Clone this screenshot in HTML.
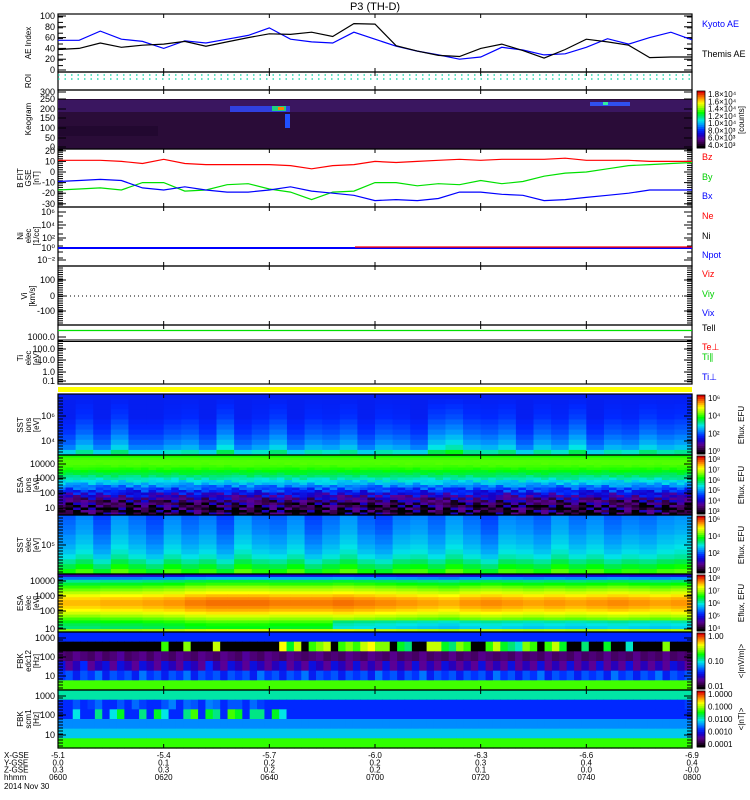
<!DOCTYPE html>
<html><head><meta charset="utf-8">
<style>
body{margin:0;background:#fff;}
svg{display:block;font-family:"Liberation Sans",sans-serif;}
</style></head>
<body>
<svg id="chart" width="750" height="800" viewBox="0 0 750 800">
<text x="375" y="10" font-size="11" text-anchor="middle">P3 (TH-D)</text>
<g id="marks"></g>
</svg>
<script>
// ---- data ----
const timeMin = [0,4,8,12,16,20,24,28,32,36,40,44,48,52,56,60,64,68,72,76,80,84,88,92,96,100,104,108,112,116,120];
const kyotoAE = [55,55,72,57,53,40,54,50,57,64,78,57,52,50,70,57,44,35,28,20,24,42,37,28,30,42,58,48,60,70,56];
const themisAE = [38,40,50,42,46,48,53,44,52,60,67,66,70,62,86,85,45,35,27,25,40,48,36,22,38,57,52,46,23,24,24];
const bx = [-9,-8,-7,-8,-15,-17,-14,-17,-19,-19,-17,-14,-18,-20,-22,-27,-26,-27,-25,-19,-19,-21,-22,-27,-26,-24,-22,-20,-17,-17,-17];
const by = [-17,-16,-15,-17,-10,-10,-18,-17,-12,-11,-16,-19,-26,-19,-18,-10,-10,-13,-11,-12,-8,-11,-9,-4,-1,0,3,6,7,8,9];
const bz = [11,11,11,10,8,12,8,7,7,7,7,6,3,6,7,10,9,10,11,12,11,12,12,12,13,11,11,11,10,10,10];
const xTickLabels = ['0600','0620','0640','0700','0720','0740','0800'];
const xGse = ['-5.1','-5.4','-5.7','-6.0','-6.3','-6.6','-6.9'];
const yGse = ['0.0','0.1','0.2','0.2','0.3','0.4','0.4'];
const zGse = ['0.3','0.3','0.2','0.2','0.1','0.0','-0.0'];
// spectrogram band profiles (top->bottom) and column modulations
const sst1Bands = [0.28,0.28,0.28,0.28,0.28,0.29,0.3,0.31,0.33,0.35,0.38,0.46];
const sst1Cols = [0,0.04,0,0.05,0,0,0.02,0.03,0,0.06,0,0.02,0.05,0,0.03,0.02,0.04,0,0.03,0.02,0,0.06,0.08,0.04,0.03,0.05,0,0.04,0.02,0.06,0,0.03,0.02,0.05,0.03,0.04];
const esaiBands = [0.63,0.66,0.67,0.67,0.66,0.64,0.61,0.58,0.55,0.51,0.47,0.43,0.38,0.33,0.29,0.24,0.2,0.16,0.13,0.1,0.08,0.06,0.05,0.04];
const esaiCols = "3142031524130425314205132403152413250314253142031524130425314205132403152413250314";
const sst2Bands = [0.32,0.33,0.34,0.35,0.37,0.38,0.4,0.42,0.45,0.5,0.55,0.6];
const sst2Cols = [0.02,0.05,0,0.06,0.03,0,0.05,0.02,0.04,0,0.06,0.03,0.02,0.05,0,0.03,0.06,0.02,0,0.04,0.05,0.02,0.06,0.03,0,0.05,0.04,0.02,0.06,0.03,0.05,0.02,0.04,0.03,0.05,0.06];
const esaeBands = [0.22,0.4,0.56,0.62,0.68,0.72,0.77,0.82,0.86,0.88,0.88,0.86,0.83,0.79,0.74,0.69,0.64,0.6,0.58,0.74];
const esaeCols = [-0.03,-0.03,-0.02,-0.02,-0.01,0,0.02,0.03,0.03,0.03,0.02,0.02,0.02,0.03,0.02,0.01,0,-0.01,-0.02,0,0.01,0,-0.01,0,-0.01,0,0.01,0,-0.01,0];
const fbk1Hi  = "00000000000000600700080000000095806780676897705400885476006854376068500400500300007000";
const fbk1Mid = "21321312412313213213213214213213212312132132131213121312132121312131213121312131213121";
const fbk1Low = "34243524342534243524342434253424352434243425342435243424342534243524342434253424352434";
const fbk2Mid = "00100201300203100240320430220310000000000000000000000000000000000000000000000000000000";
</script>
<script>
const svg = document.getElementById('chart');
const g = document.getElementById('marks');
const NS = 'http://www.w3.org/2000/svg';
const X0 = 58, X1 = 692;
const xScale = t => X0 + t / 120 * (X1 - X0);
function el(tag, attrs, parent) {
  const e = document.createElementNS(NS, tag);
  for (const k in attrs) e.setAttribute(k, attrs[k]);
  (parent || g).appendChild(e);
  return e;
}
function txt(x, y, s, attrs, parent) {
  const e = el('text', Object.assign({x: x, y: y, 'font-size': 9}, attrs || {}), parent);
  e.textContent = s;
  return e;
}
const stops = [[0,[0,0,0]],[0.08,[60,0,80]],[0.15,[90,0,150]],[0.22,[20,0,200]],[0.3,[0,40,255]],[0.4,[0,150,255]],[0.48,[0,230,230]],[0.56,[0,230,100]],[0.62,[0,255,0]],[0.72,[160,255,0]],[0.8,[255,255,0]],[0.88,[255,150,0]],[1,[220,0,0]]];
function cmap(v) {
  if (!isFinite(v)) v = 0.3;
  v = Math.max(0, Math.min(1, v));
  for (let i = 1; i < stops.length; i++) {
    if (v <= stops[i][0]) {
      const a = stops[i-1], b = stops[i], f = (v - a[0]) / (b[0] - a[0]);
      const c = a[1].map((q, j) => Math.round(q + (b[1][j] - q) * f));
      return 'rgb(' + c.join(',') + ')';
    }
  }
  return 'rgb(220,0,0)';
}
const digit = (s, i) => Number(s[((i % s.length) + s.length) % s.length]);
function spec(name, y0, y1, nRows, nCols, fn) {
  const grp = el('g', {});
  
  
  const rh = (y1 - y0) / nRows, cw = (X1 - X0) / nCols;
  for (let r = 0; r < nRows; r++) for (let c = 0; c < nCols; c++) {
    el('rect', {x: (X0 + c * cw).toFixed(2), y: (y0 + r * rh).toFixed(2), width: (cw + 0.6).toFixed(2), height: (rh + 0.6).toFixed(2), fill: cmap(fn(r, c, nRows, nCols))}, grp);
  }
  return grp;
}
function line(name, xs, ys, yScale, color) {
  const pts = xs.map((t, i) => xScale(t).toFixed(1) + ',' + yScale(ys[i]).toFixed(1)).join(' ');
  const p = el('polyline', {points: pts, fill: 'none', stroke: color, 'stroke-width': 1.2});
  
  
}
function panelFrame(name, y0, y1) {
  const r = el('rect', {x: X0, y: y0, width: X1 - X0, height: y1 - y0, fill: 'none', stroke: '#000', 'stroke-width': 1.2});
  
  
  for (let i = 0; i <= 6; i++) {
    const x = xScale(i * 20);
    el('line', {x1: x, x2: x, y1: y0, y2: y0 + 4, stroke: '#000'});
    el('line', {x1: x, x2: x, y1: y1, y2: y1 - 4, stroke: '#000'});
  }
}
function yTicks(labels, ys, minor) {
  labels.forEach((s, i) => {
    el('line', {x1: X0, x2: X0 + 8, y1: ys[i], y2: ys[i], stroke: '#000'});
    el('line', {x1: X1, x2: X1 - 8, y1: ys[i], y2: ys[i], stroke: '#000'});
    const t = txt(X0 - 3, ys[i] + 3, s, {'text-anchor': 'end', 'font-size': 9});
    
    
  });
  (minor || []).forEach(y => {
    el('line', {x1: X0, x2: X0 + 5, y1: y, y2: y, stroke: '#000'});
    el('line', {x1: X1, x2: X1 - 5, y1: y, y2: y, stroke: '#000'});
  });
}
function yTitle(lines, cy) {
  lines.forEach((s, i) => {
    const x = 31 + i * 8 - (lines.length - 1) * 4;
    const t = txt(x, cy, s, {'font-size': 8, 'text-anchor': 'middle', transform: 'rotate(-90 ' + x + ' ' + cy + ')'});
    
    
  });
}
function legend(s, y, color) {
  const t = txt(702, y, s, {fill: color, 'font-size': 9});
  
  
}
function colorbar(name, y0, y1, labels) {
  const grp = el('g', {});
  
  
  const n = 30, h = (y1 - y0) / n;
  for (let i = 0; i < n; i++) el('rect', {x: 697, y: y0 + i * h, width: 8, height: h + 0.5, fill: cmap(1 - i / (n - 1))}, grp);
  el('rect', {x: 697, y: y0, width: 8, height: y1 - y0, fill: 'none', stroke: '#000', 'stroke-width': 0.8}, grp);
  labels.forEach((s, i) => txt(708, y0 + 6 + i * (y1 - y0 - 6) / Math.max(1, labels.length - 1), s, {'font-size': 8}, grp));
}
const minorDense = (y0, y1, step) => { const a = []; for (let y = y0; y < y1; y += step) a.push(y); return a; };

// ---- AE panel ----
const aeY = v => 70 - v * 0.54;
panelFrame('ae-panel', 14, 72);
yTicks(['100','80','60','40','20','0'], [100,80,60,40,20,0].map(aeY), minorDense(17, 70, 5.4));
line('kyoto-ae-line', timeMin, kyotoAE, aeY, '#0000ff');
line('themis-ae-line', timeMin, themisAE, aeY, '#000');
yTitle(['AE Index'], 43);
legend('Kyoto AE', 27, '#0000ff');
legend('Themis AE', 57, '#000');

// ---- ROI ----
panelFrame('roi-panel', 72, 90);
el('line', {x1: X0, x2: X1, y1: 75, y2: 75, stroke: '#00d0a0', 'stroke-dasharray': '1.5 5', 'stroke-width': 1.3});
el('line', {x1: X0, x2: X1, y1: 79, y2: 79, stroke: '#00d0a0', 'stroke-dasharray': '1.5 5', 'stroke-width': 1.3});
yTitle(['ROI'], 81);

// ---- Keogram ----
panelFrame('keogram-panel', 90, 149);
const keo = el('g', {});


el('rect', {x: X0, y: 99, width: X1 - X0, height: 50, fill: '#2a0c38'}, keo);
el('rect', {x: X0, y: 100, width: X1 - X0, height: 12, fill: '#3a1660'}, keo);
el('rect', {x: X0, y: 126, width: 100, height: 10, fill: '#220830'}, keo);
el('rect', {x: 230, y: 106, width: 60, height: 6, fill: '#3040e0'}, keo);
el('rect', {x: 272, y: 106, width: 14, height: 5, fill: '#20d080'}, keo);
el('rect', {x: 278, y: 107, width: 6, height: 3, fill: '#ff8000'}, keo);
el('rect', {x: 285, y: 114, width: 5, height: 14, fill: '#2050ff'}, keo);
el('rect', {x: 590, y: 102, width: 40, height: 4, fill: '#3050f0'}, keo);
el('rect', {x: 603, y: 102, width: 5, height: 3, fill: '#30f0a0'}, keo);
yTicks(['300','250','200','150','100','50','0'], [92,99,109,118,128,138,147]);
yTitle(['Keogram'], 119);
colorbar('keogram-colorbar', 91, 148, ['1.8×10⁴','1.6×10⁴','1.4×10⁴','1.2×10⁴','1.0×10⁴','8.0×10³','6.0×10³','4.0×10³']);

// ---- B field ----
const bY = v => 172 - v * 1.06;
panelFrame('b-field-panel', 149, 207);
yTicks(['20','10','0','-10','-20','-30'], [20,10,0,-10,-20,-30].map(bY), minorDense(150, 206, 2.2));
line('bz-line', timeMin, bz, bY, '#ff0000');
line('by-line', timeMin, by, bY, '#00e000');
line('bx-line', timeMin, bx, bY, '#0000ff');
yTitle(['B FIT','GSE','[nT]'], 178);
legend('Bz', 160, '#ff0000');
legend('By', 180, '#00d000');
legend('Bx', 199, '#0000ff');

// ---- Ni ----
panelFrame('density-panel', 207, 266);
yTicks(['10⁶','10⁴','10²','10⁰','10⁻²'], [212,225,238,248,260], minorDense(216, 264, 6));
el('line', {x1: X0, x2: X1, y1: 248, y2: 248, stroke: '#0000ff', 'stroke-width': 2});
el('line', {x1: 355, x2: X1, y1: 247, y2: 247, stroke: '#ff0000', 'stroke-width': 1.2});
yTitle(['Ni','elec','[1/cc]'], 236);
legend('Ne', 219, '#ff0000');
legend('Ni', 239, '#000');
legend('Npot', 258, '#0000ff');

// ---- Vi ----
panelFrame('velocity-panel', 266, 325);
yTicks(['100','0','-100'], [280,296,311], minorDense(268, 324, 2.2));
el('line', {x1: X0, x2: X1, y1: 296, y2: 296, stroke: '#000', 'stroke-dasharray': '1 3'});
yTitle(['Vi','[km/s]'], 296);
legend('Viz', 277, '#ff0000');
legend('Viy', 297, '#00d000');
legend('Vix', 316, '#0000ff');

// ---- Ti ----
panelFrame('temperature-panel', 325, 384);
el('line', {x1: X0, x2: X1, y1: 340, y2: 340, stroke: '#000'});
yTicks(['1000.0','100.0','10.0','1.0','0.1'], [337,349,360,372,381], minorDense(341, 383, 2.4));
el('line', {x1: X0, x2: X1, y1: 330.5, y2: 330.5, stroke: '#00e000', 'stroke-width': 1.2});
el('line', {x1: X0, x2: X1, y1: 341.5, y2: 341.5, stroke: '#000', 'stroke-width': 1});
yTitle(['Ti','elec','[eV]'], 358);
legend('Tell', 331, '#000');
legend('Te⊥', 350, '#ff0000');
legend('Ti∥', 360, '#00d000');
legend('Ti⊥', 380, '#0000ff');

// ---- yellow bar ----
const yb = el('rect', {x: X0, y: 387, width: X1 - X0, height: 5, fill: '#ffff00'});



// ---- spectrograms ----
spec('sst-ion-spectrogram', 394, 455, sst1Bands.length, sst1Cols.length, (r, c, n) => sst1Bands[r] + sst1Cols[c] * (r / n) * 2);
spec('esa-ion-spectrogram', 455, 515, esaiBands.length, 84, (r, c, n) => esaiBands[r] + (digit(esaiCols, c * 3 + r * 7) - 2.5) * 0.025 * (r / n) * (r / n) * 3);
spec('sst-electron-spectrogram', 515, 574, sst2Bands.length, sst2Cols.length, (r, c) => sst2Bands[r] + sst2Cols[c] * 1.3);
spec('esa-electron-spectrogram', 574, 632, esaeBands.length, esaeCols.length, (r, c, n) => {
  let v = esaeBands[r] + esaeCols[c];
  if (r > n * 0.75 && r < n - 1 && c > 12) v -= 0.12;
  return v;
});
spec('fbk-edc12-spectrogram', 632, 690, 6, fbk1Hi.length, (r, c) => {
  if (r === 0) return 0.3;
  if (r === 1) { const d = digit(fbk1Hi, c); return d === 0 ? 0.0 : 0.35 + d * 0.05; }
  if (r === 2) return 0.08 + digit(fbk1Mid, c) * 0.02;
  if (r === 3) return 0.1 + digit(fbk1Mid, c + 5) * 0.05;
  if (r === 4) return 0.22 + digit(fbk1Low, c) * 0.03;
  return 0.66;
});
spec('fbk-scm-spectrogram', 690, 748, 6, fbk2Mid.length, (r, c) => {
  if (r === 0) return 0.52;
  if (r === 1) return 0.3 + digit(fbk2Mid, c + 3) * 0.02;
  if (r === 2) { const d = digit(fbk2Mid, c); return d === 0 ? 0.3 : 0.42 + d * 0.06; }
  if (r === 3) return 0.39;
  if (r === 4) return 0.45;
  return 0.65;
});
panelFrame('sst-ion-panel', 394, 455);
panelFrame('esa-ion-panel', 455, 515);
panelFrame('sst-electron-panel', 515, 574);
panelFrame('esa-electron-panel', 574, 632);
panelFrame('fbk-edc12-panel', 632, 690);
panelFrame('fbk-scm-panel', 690, 748);
yTicks(['10⁶','10⁴'], [416,441], minorDense(398, 454, 3));
yTitle(['SST','ions','[eV]'], 425);
yTicks(['10000','1000','100','10'], [464,478,493,508], minorDense(458, 514, 3));
yTitle(['ESA','ions','[eV]'], 485);
yTicks(['10⁵'], [545], minorDense(518, 573, 3));
yTitle(['SST','elec','[eV]'], 545);
yTicks(['10000','1000','100','10'], [581,596,611,629], minorDense(577, 631, 3));
yTitle(['ESA','elec','[eV]'], 603);
yTicks(['1000','100','10'], [638,657,676], minorDense(640, 689, 3));
yTitle(['FBK','edc12','[Hz]'], 661);
yTicks(['1000','100','10'], [696,715,735], minorDense(698, 747, 3));
yTitle(['FBK','scm1','[Hz]'], 719);
colorbar('sst-ion-colorbar', 395, 454, ['10⁶','10⁴','10²','10⁰']);
colorbar('esa-ion-colorbar', 456, 514, ['10⁸','10⁷','10⁶','10⁵','10⁴','10³']);
colorbar('sst-electron-colorbar', 516, 573, ['10⁶','10⁴','10²','10⁰']);
colorbar('esa-electron-colorbar', 575, 631, ['10⁸','10⁷','10⁶','10⁵','10⁴']);
colorbar('fbk-edc12-colorbar', 633, 689, ['1.00','0.10','0.01']);
colorbar('fbk-scm-colorbar', 691, 747, ['1.0000','0.1000','0.0100','0.0010','0.0001']);
[['Eflux, EFU',425],['Eflux, EFU',485],['Eflux, EFU',545],['Eflux, EFU',603],['<|mV/m|>',661],['<|nT|>',719]].forEach(([s, cy]) => {
  const t = txt(744, cy, s, {'font-size': 8, 'text-anchor': 'middle', transform: 'rotate(-90 744 ' + cy + ')'});
  
  
});
const ct = txt(744, 120, '[counts]', {'font-size': 8, 'text-anchor': 'middle', transform: 'rotate(-90 744 120)'});



// ---- x axis labels ----
const rowNames = ['X-GSE','Y-GSE','Z-GSE','hhmm'];
rowNames.forEach((s, i) => {
  const t = txt(4, 758 + i * 7.3, s, {'font-size': 8});
  
  
});
const dt = txt(4, 789, '2014 Nov 30', {'font-size': 8});


xTickLabels.forEach((s, i) => {
  const x = xScale(i * 20);
  [xGse[i], yGse[i], zGse[i], s].forEach((v, j) => {
    const t = txt(x, 758 + j * 7.3, v, {'font-size': 8, 'text-anchor': 'middle'});
    
    
  });
});
</script>
</body></html>
